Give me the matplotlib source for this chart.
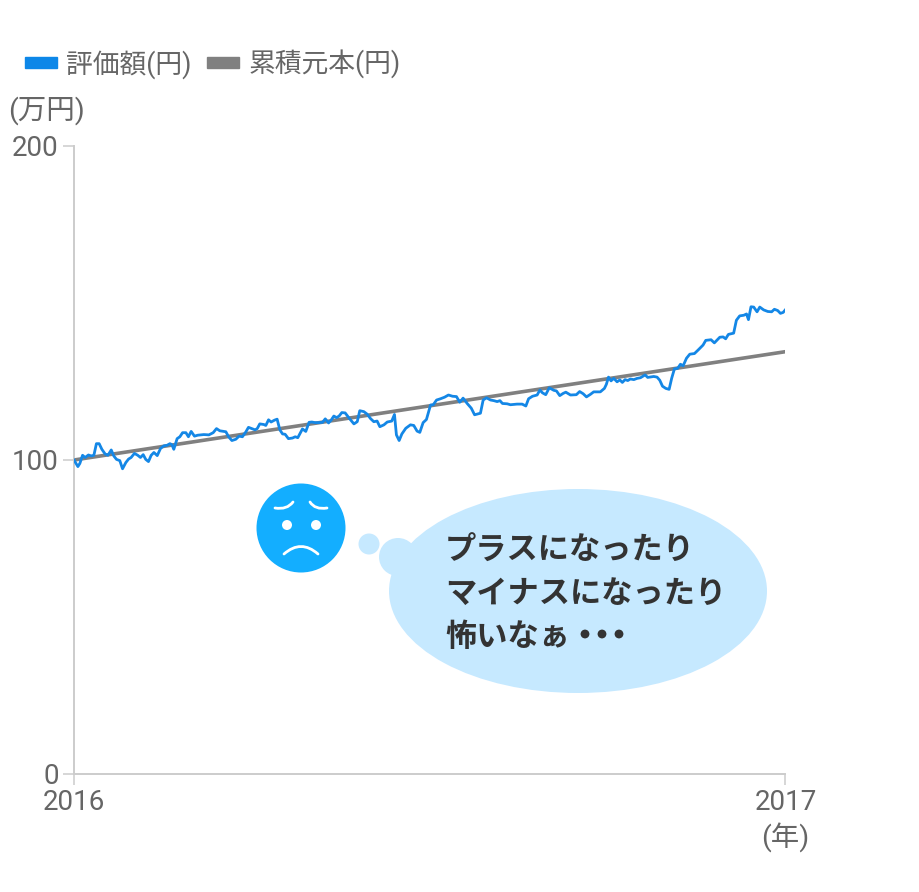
import matplotlib
matplotlib.use("Agg")
import matplotlib.pyplot as plt
from matplotlib.patches import Ellipse, Circle, Patch, PathPatch
from matplotlib.path import Path

plt.rcParams['font.family'] = ['Roboto', 'Noto Sans CJK JP', 'DejaVu Sans']

GRAY = '#666666'
series_names = ['評価額(円)', '累積元本(円)']
x_tick_labels = ['2016', '2017']
y_ticks = [0, 100, 200]

days = [0,2,3,4.4,5.7,7.4,8.8,10.2,11.5,12.9,14.3,16,17.4,19.1,20.4,21.8,23.5,24.9,26.6,28,29.3,31,32.7,34.1,35.5,36.8,38.2,39.6,41,42.7,44.4,46.1,47.8,49.2,50.2,51.2,52.9,54.3,55.7,57.4,58.7,60.1,61.8,63.5,66.6,69.2,71.4,73.1,74.8,77.9,79.3,81,83,84.7,86.4,88.2,89.5,91.2,92.9,94,95.3,97.4,98.4,99.8,101.1,102.9,104.2,105.6,107,108.3,110,112.1,113.5,114.8,116.2,117.2,118.9,120.6,
122,123.7,125.4,127.5,128.9,130.6,131.9,133.3,134.7,136,137.4,139.1,141.2,143.6,145.3,146.6,148.7,150.4,152.1,153.8,155.5,156.9,159,160.7,163,164.4,165.4,166.8,168.2,170.2,172.6,174.3,176,177.4,179.1,180.8,182.9,184.3,186,188,190.1,192.1,194.2,196.2,197.9,199.6,201.7,203.8,205.5,208.5,209.9,211.6,213.7,215.4,217.1,218.5,219.8,222.2,223.9,227.3,229.9,231.8,233.2,235.2,237.6,239,240.3,242,243.8,
246.1,247.5,249.2,250.9,252.3,254.7,257.7,259.4,261.2,262.9,264.9,266.6,270,272.1,273.1,274.2,275.5,276.9,278.6,280,281.3,282.7,284.1,285.4,287.2,288.9,290.6,293,294.3,297.4,299.1,300.5,301.9,303.6,305.3,306.6,308,309.7,311.1,312.5,314.2,315.9,318.3,320.3,322.7,324.1,326.8,328.5,331.3,333,334.3,335.7,338.4,339.8,341.5,343.6,345,346,347.3,348.7,350.4,351.8,353.8,355.9,357.9,359.3,361,362.4,363.8,365]

market_value = [100,97.9,98.9,101.5,100.8,101.6,101.3,101.5,105.2,105.2,103.4,101.9,101.5,103.2,101.3,100.2,99.8,97.2,99.2,100.3,100.8,102.1,101.5,100.8,101.7,100.2,99.5,101.5,102.4,101.4,103.7,104.5,104.7,105.2,104.9,103.4,106.8,107.4,108.7,108.7,107.4,109.1,107.6,107.9,108.1,108,108.7,110,109.3,109,107.4,106.2,106.6,107.6,107.4,109,110.4,110,109.6,110,111.5,111.3,111,112.8,112.1,112.7,113,109.6,108.3,108.2,106.8,107,107.4,107.1,108.7,109.9,109.1,112,
112.1,111.9,111.9,112,113.1,111.8,112.7,114,113.5,114,115.1,115,113.3,111.5,112.2,115.7,115.4,114.6,113.2,112.2,112.4,110.6,111.2,112.1,112.4,114.5,108,106.2,108.3,110.1,111.2,111,109.2,108.8,111.9,112.9,117.5,117.6,119.1,119.5,120,120.7,120.3,120.2,118.4,119.7,118,116.5,114.4,114.9,119.1,119.8,119.1,118.9,118.6,118.9,118,117.9,117.6,117.8,117.8,117.2,119.5,120.3,120.7,122.3,121.4,120.8,123,
122.2,122,120.5,121.2,121.6,120.7,120.8,121.8,121.1,120.1,120.9,121.7,121.7,122.8,124.1,126.4,125.2,126,124.9,125.5,124.7,125.6,125.3,125.8,125.6,126,126.2,127.1,126.3,126.6,126.4,125.4,123.5,122.8,122.5,126,129,129.2,130.5,130,132.4,133.7,133.9,135.1,136.6,138.1,138.3,137.3,139.1,139.2,138.6,140,140.4,144.5,145.9,146.1,146.5,144.7,148.8,148.7,147.2,148.7,147.8,147.3,147.2,148,147.6,146.7,147,147.9]

principal_days = [0, 365]
principal = [100, 134.5]

W, H = 920, 892
fig = plt.figure(figsize=(W/100, H/100), dpi=100, facecolor='white')
L, R, T, B = 74, 785.5, 146, 774
ax = fig.add_axes([L/W, 1-B/H, (R-L)/W, (B-T)/H])
ax.set_xlim(0, 365)
ax.set_ylim(0, 200)
ax.patch.set_alpha(0)
ax.plot(principal_days, principal, color='#808080', lw=2.6, solid_capstyle='round', zorder=2)
ax.plot(days, market_value, color='#1487e6', lw=2.0, solid_joinstyle='round', zorder=3)

for s in ('top', 'right'):
    ax.spines[s].set_visible(False)
for s in ('left', 'bottom'):
    ax.spines[s].set_color('#cccccc')
    ax.spines[s].set_linewidth(1.4)
ax.set_xticks([0, 365], x_tick_labels)
ax.set_yticks(y_ticks)
ax.tick_params(axis='both', length=8, width=1.1, color='#cccccc', labelcolor=GRAY, labelsize=20)
ax.tick_params(axis='x', pad=3)
ax.tick_params(axis='y', pad=3)

handles = [Patch(color='#0d87e8'), Patch(color='#808080')]
fig.legend(handles, series_names, loc='upper left', bbox_to_anchor=(25/W, 1-50/H), frameon=False,
           ncol=2, fontsize=19.3, labelcolor=GRAY, handlelength=1.18, handleheight=0.25,
           handletextpad=0.36, columnspacing=0.58, borderpad=0, borderaxespad=0)

# overlay in pixel coordinates for annotations
ov = fig.add_axes([0, 0, 1, 1], zorder=5)
ov.set_xlim(0, W); ov.set_ylim(H, 0); ov.axis('off')
ov.text(8, 111, '(万円)', color=GRAY, fontsize=20.5, ha='left', va='center')
ov.text(785, 838, '(年)', color=GRAY, fontsize=20.5, ha='center', va='center')

BUB = '#c6e9ff'
ov.add_patch(Ellipse((578, 591), 378, 204, color=BUB, lw=0))
ov.add_patch(Circle((398, 557), 19, color=BUB, lw=0))
ov.add_patch(Circle((369, 544), 10.5, color=BUB, lw=0))
ov.add_patch(Circle((301, 528), 44.5, color='#13aeff', lw=0))
ov.add_patch(Circle((287, 525), 5, color='white', lw=0))
ov.add_patch(Circle((316, 525), 5, color='white', lw=0))
for p in ([(275, 508), (287, 510), (293, 502)], [(327, 508), (315, 510), (310, 502)]):
    ov.add_patch(PathPatch(Path(p, [Path.MOVETO, Path.CURVE3, Path.CURVE3]),
                           fc='none', ec='white', lw=2, capstyle='round'))
ov.add_patch(PathPatch(Path([(284, 554), (301, 539), (318, 554)], [Path.MOVETO, Path.CURVE3, Path.CURVE3]),
                       fc='none', ec='white', lw=2, capstyle='round'))

TXT = '#333333'
for y, s in zip([559.5, 602.5, 646], ['プラスになったり', 'マイナスになったり', '怖いなぁ']):
    ov.text(445, y, s, color=TXT, fontsize=22.5, fontweight='bold', ha='left', va='baseline',
            family=['Noto Sans CJK JP', 'DejaVu Sans'])
for x in (585, 602, 619):
    ov.add_patch(Circle((x, 634), 4.4, color=TXT, lw=0))

fig.savefig('out.png', dpi=100)
